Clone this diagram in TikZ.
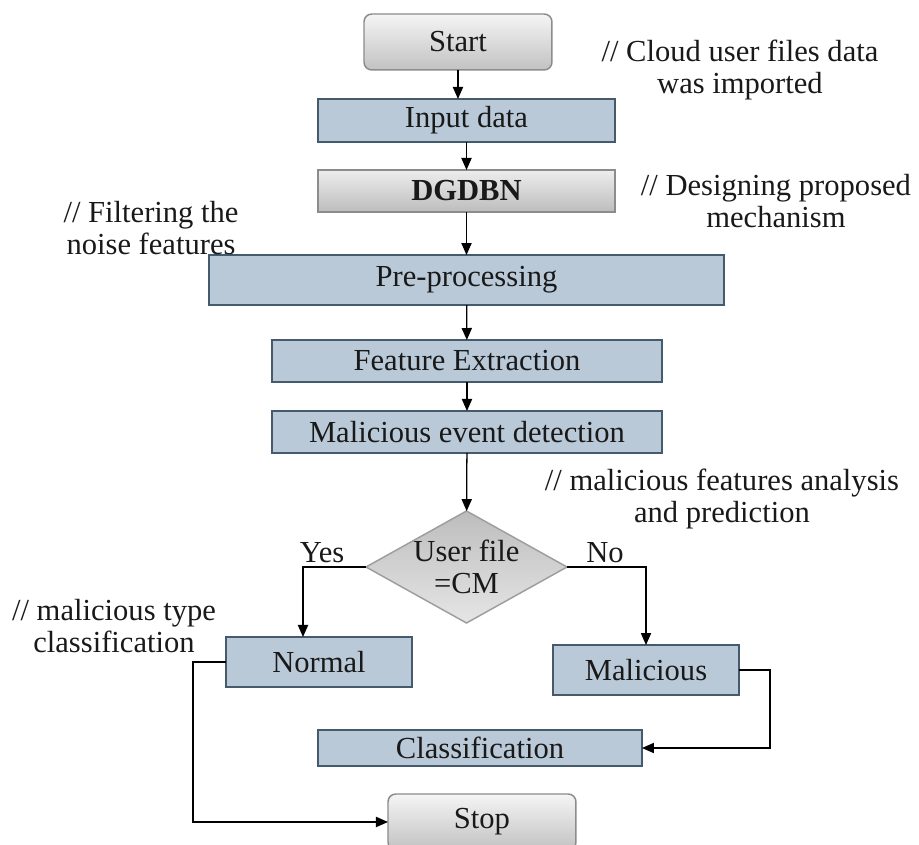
\documentclass[tikz,border=0pt]{standalone}
\usepackage{fontspec}
\setmainfont{Liberation Serif}
\usetikzlibrary{shapes.geometric,arrows.meta,calc}
\definecolor{boxfill}{RGB}{186,201,216}
\definecolor{boxline}{RGB}{70,90,110}
\definecolor{greyline}{RGB}{140,140,140}
\definecolor{inkcol}{RGB}{25,25,25}

\begin{document}
\begin{tikzpicture}[font=\fontsize{14.5}{15.3}\selectfont,text=inkcol]
\tikzstyle{process}=[draw=boxline,fill=boxfill,line width=0.7pt,outer sep=0pt,inner sep=0pt]
\tikzstyle{terminal}=[draw=greyline,top color=white!96!black,bottom color=white!76!black,rounded corners=0.13cm,line width=0.7pt,outer sep=0pt,minimum width=3.133cm,minimum height=0.933cm]
\tikzstyle{arr}=[line width=0.6pt,-{Triangle[length=0.2cm,width=0.17cm]}]
\tikzstyle{note}=[align=center,inner sep=0pt]

\useasboundingbox (0,0) rectangle (15.317,-14.083);

\node (start) [terminal] at (7.633,-0.7) {Start};
\node (input) [process,minimum width=4.95cm,minimum height=0.717cm] at (7.775,-2.008) {Input data};
\node (dgdbn) [draw=greyline,top color=white!93!black,bottom color=white!74!black,line width=0.7pt,outer sep=0pt,minimum width=4.95cm,minimum height=0.7cm] at (7.775,-3.183) {\textbf{DGDBN}};
\node (pre) [process,minimum width=8.583cm,minimum height=0.833cm] at (7.775,-4.667) {Pre-processing};
\node (feat) [process,minimum width=6.5cm,minimum height=0.7cm] at (7.783,-6.017) {Feature Extraction};
\node (event) [process,minimum width=6.5cm,minimum height=0.7cm] at (7.783,-7.2) {Malicious event detection};
\node (dec) [diamond,draw=white!62!black,top color=white!74!black,bottom color=white!90!black,line width=0.7pt,outer sep=0pt,inner sep=0pt,minimum width=3.35cm,minimum height=1.867cm,label={[align=center,inner sep=0pt]center:User file\\=CM}] at (7.775,-9.45) {};
\node (normal) [process,minimum width=3.1cm,minimum height=0.833cm] at (5.317,-11.033) {Normal};
\node (malic) [process,minimum width=3.1cm,minimum height=0.833cm] at (10.767,-11.167) {Malicious};
\node (classif) [process,minimum width=5.4cm,minimum height=0.6cm] at (8.0,-12.467) {Classification};
\node (stop) [terminal] at (8.033,-13.7) {Stop};

\draw [arr] (start.south) -- (start.south |- input.north);
\draw [arr] (input) -- (dgdbn);
\draw [arr] (dgdbn) -- (pre);
\draw [arr] (pre) -- (feat);
\draw [arr] (feat) -- (event);
\draw [arr] (event) -- (dec);
\draw [arr] (dec.west) -| ([xshift=-0.267cm]normal.north);
\draw [arr] (dec.east) -| (malic.north);
\draw [arr] (malic.east) -- ++(0.517,0) |- (classif.east);
\draw [arr] (normal.west) -- ++(-0.55,0) |- (stop.west);

\node (yes) at (5.367,-9.217) {Yes};
\node (no) at (10.083,-9.217) {No};

\node (n1) [note] at (12.333,-1.167) {// Cloud user files data\\was imported};
\node (n2) [note] at (12.933,-3.35) {// Designing proposed\\mechanism};
\node (n3) [note] at (2.517,-3.8) {// Filtering the\\noise features};
\node (n4) [note] at (12.033,-8.317) {// malicious features analysis\\and prediction};
\node (n5) [note] at (1.9,-10.433) {// malicious type\\classification};

\end{tikzpicture}
\end{document}
